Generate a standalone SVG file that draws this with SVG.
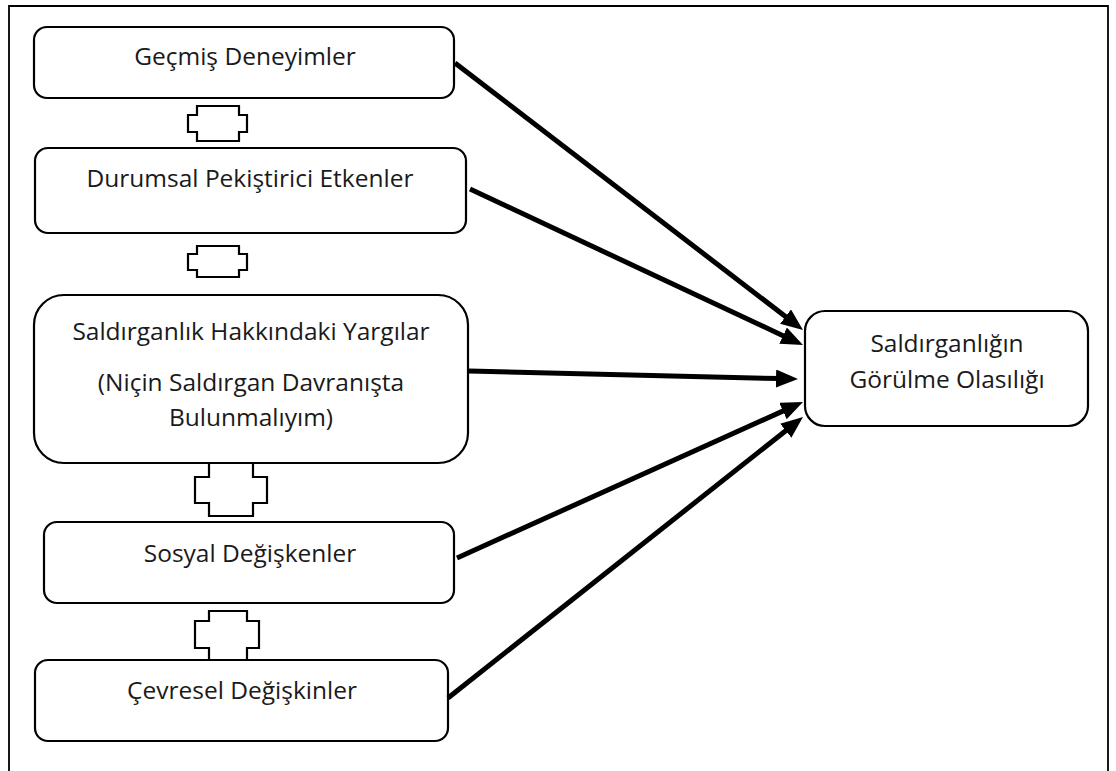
<svg xmlns="http://www.w3.org/2000/svg" width="1116" height="771" viewBox="0 0 1116 771">
<style>
.box{fill:#fff;stroke:#000;stroke-width:2.2}
.lnk{fill:#fff;stroke:#000;stroke-width:2.2}
.t{font-family:"Open Sans","Noto Sans",sans-serif;font-size:24.5px;fill:#1a1a1a;text-anchor:middle}
.arr{stroke:#000;stroke-width:5;fill:none;marker-end:url(#ah)}
</style>
<defs>
<marker id="ah" markerUnits="userSpaceOnUse" markerWidth="24" markerHeight="18" refX="4" refY="9" orient="auto">
<path d="M0,0 L22,9 L0,18 z" fill="#000"/>
</marker>
</defs>
<rect x="0" y="0" width="1116" height="771" fill="#fff"/>
<path d="M9,771 L9,6 L1108,6 L1108,771" fill="none" stroke="#000" stroke-width="1.8"/>

<g id="links">
<polygon class="lnk" points="197,106 239,106 239,115 247,115 247,132 239,132 239,141 197,141 197,132 188,132 188,115 197,115"/>
<polygon class="lnk" points="197,246 239,246 239,254 247,254 247,270 239,270 239,277 197,277 197,270 188,270 188,254 197,254"/>
<polygon class="lnk" points="209,463 253,463 253,477 267,477 267,503 253,503 253,516 209,516 209,503 195,503 195,477 209,477"/>
<polygon class="lnk" points="209,611 247,611 247,621 259,621 259,648 247,648 247,660 209,660 209,648 195,648 195,621 209,621"/>
</g>

<g id="n1"><rect class="box" x="34" y="27" width="420" height="71" rx="13"/><text class="t" x="245" y="65">Geçmiş Deneyimler</text></g>
<g id="n2"><rect class="box" x="35" y="148" width="431" height="85" rx="13"/><text class="t" x="250" y="187">Durumsal Pekiştirici Etkenler</text></g>
<g id="n3"><rect class="box" x="34" y="295" width="434" height="168" rx="30"/>
<text class="t" x="251" y="340">Saldırganlık Hakkındaki Yargılar</text>
<text class="t" x="251" y="391">(Niçin Saldırgan Davranışta</text>
<text class="t" x="251" y="426">Bulunmalıyım)</text></g>
<g id="n4"><rect class="box" x="44" y="522" width="410" height="81" rx="13"/><text class="t" x="250" y="562">Sosyal Değişkenler</text></g>
<g id="n5"><rect class="box" x="35" y="660" width="413" height="81" rx="13"/><text class="t" x="242" y="699">Çevresel Değişkinler</text></g>
<g id="n6"><rect class="box" x="805" y="311" width="283" height="115" rx="20"/>
<text class="t" x="947" y="352">Saldırganlığın</text>
<text class="t" x="947" y="388">Görülme Olasılığı</text></g>

<g id="connectors">
<line class="arr" x1="455" y1="63" x2="788.7" y2="319"/>
<line class="arr" x1="470" y1="189" x2="786.7" y2="337.4"/>
<line class="arr" x1="469" y1="371" x2="780" y2="378.6"/>
<line class="arr" x1="457" y1="558" x2="786.6" y2="409.4"/>
<line class="arr" x1="448" y1="698" x2="788.9" y2="428.2"/>
</g>
</svg>
